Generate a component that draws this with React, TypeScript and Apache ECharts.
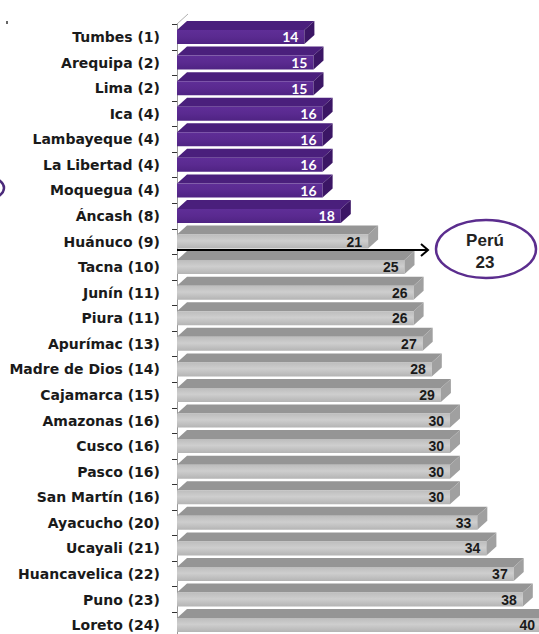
import React, { useEffect, useRef } from "react";
import * as echarts from "echarts";

const categories = [
  "Tumbes (1)", "Arequipa (2)", "Lima (2)", "Ica (4)", "Lambayeque (4)", "La Libertad (4)",
  "Moquegua (4)", "Áncash (8)", "Huánuco (9)", "Tacna (10)", "Junín (11)", "Piura (11)",
  "Apurímac (13)", "Madre de Dios (14)", "Cajamarca (15)", "Amazonas (16)", "Cusco (16)",
  "Pasco (16)", "San Martín (16)", "Ayacucho (20)", "Ucayali (21)", "Huancavelica (22)",
  "Puno (23)", "Loreto (24)",
];
const values = [14, 15, 15, 16, 16, 16, 16, 18, 21, 25, 26, 26, 27, 28, 29, 30, 30, 30, 30, 33, 34, 37, 38, 40];
const highlightedCount = 8;
const nationalLabel = "Perú";
const nationalValue = 23;

export default function App() {
  const ref = useRef<HTMLDivElement>(null);
  useEffect(() => {
    if (!ref.current) return;
    const chart = echarts.init(ref.current, null, { renderer: "svg" });
    const data = values.map((v, i) => [v, i]);
    const xMax = 39.5;
    chart.setOption({
      animation: false,
      backgroundColor: "#ffffff",
      grid: { left: 177, top: 24.2, width: xMax * 9.1, height: 24 * 25.57, outerBoundsMode: "none" },
      xAxis: { type: "value", min: 0, max: xMax, show: false },
      yAxis: {
        type: "category",
        data: categories,
        inverse: true,
        axisLine: { show: true, lineStyle: { color: "#9a9a9a", width: 1 } },
        axisTick: { show: true, length: 5, lineStyle: { color: "#333" } },
        axisLabel: {
          margin: 17,
          color: "#1a1a1a",
          fontFamily: "DejaVu Sans",
          fontWeight: "bold",
          fontSize: 14,
        },
        splitLine: { show: false },
      },
      series: [
        {
          type: "custom",
          data,
          encode: { x: 0, y: 1 },
          clip: false,
          renderItem: (params: any, api: any) => {
            const v = api.value(0);
            const idx = api.value(1);
            const end = api.coord([v, idx]);
            const start = api.coord([0, idx]);
            const x0 = start[0];
            const xf = end[0];
            const cy = end[1];
            const fh = 14;
            const dx = 10;
            const dy = 9;
            const yt = cy - fh / 2;
            const yb = cy + fh / 2;
            const purple = params.dataIndex < highlightedCount;
            const frontFill = purple
              ? new echarts.graphic.LinearGradient(0, 0, 0, 1, [
                  { offset: 0, color: "#5f2e97" },
                  { offset: 0.5, color: "#5a2a90" },
                  { offset: 1, color: "#4f2383" },
                ])
              : new echarts.graphic.LinearGradient(0, 0, 0, 1, [
                  { offset: 0, color: "#bdbdbd" },
                  { offset: 0.45, color: "#cecece" },
                  { offset: 1, color: "#b4b4b4" },
                ]);
            const topFill = purple ? "#4a1f7c" : "#959595";
            const sideFill = purple ? "#3b1665" : "#a0a0a0";
            return {
              type: "group",
              children: [
                {
                  type: "polygon",
                  shape: { points: [[x0, yt], [xf, yt], [xf + dx, yt - dy], [x0 + dx, yt - dy]] },
                  style: { fill: topFill },
                },
                {
                  type: "rect",
                  shape: { x: x0, y: yt, width: xf - x0, height: fh },
                  style: { fill: frontFill },
                },
                {
                  type: "polygon",
                  shape: { points: [[xf, yt], [xf + dx, yt - dy], [xf + dx, yb - dy], [xf, yb]] },
                  style: { fill: sideFill },
                },
                {
                  type: "text",
                  style: {
                    text: String(v),
                    x: xf - 6,
                    y: cy,
                    align: "right",
                    verticalAlign: "middle",
                    fill: purple ? "#ffffff" : "#1a1a1a",
                    fontFamily: purple ? "Lato" : "Liberation Sans",
                    fontWeight: "bold",
                    fontSize: 14,
                  },
                },
              ],
            };
          },
        },
      ],
      graphic: [
        { type: "line", shape: { x1: 177, y1: 24, x2: 188, y2: 14 }, style: { stroke: "#b0b0b0", lineWidth: 1 } },
        { type: "rect", shape: { x: 6, y: 21, width: 2, height: 3 }, style: { fill: "#666" } },
        {
          type: "ellipse",
          shape: { cx: -42, cy: 188, rx: 46, ry: 17 },
          style: { fill: "none", stroke: "#4b2a7a", lineWidth: 2.5 },
        },
        {
          type: "line",
          z: 100,
          shape: { x1: 177, y1: 250, x2: 428, y2: 250 },
          style: { stroke: "#000", lineWidth: 2 },
        },
        {
          type: "polyline",
          z: 100,
          shape: { points: [[421, 244], [428, 250], [421, 256]] },
          style: { stroke: "#000", lineWidth: 2, fill: "none" },
        },
        {
          type: "ellipse",
          z: 100,
          shape: { cx: 486, cy: 249, rx: 50, ry: 29 },
          style: { fill: "#ffffff", stroke: "#5b2d8e", lineWidth: 2.5 },
        },
        {
          type: "text",
          z: 101,
          style: {
            text: nationalLabel + "\n" + String(nationalValue),
            x: 485,
            y: 251,
            align: "center",
            verticalAlign: "middle",
            fill: "#222",
            fontFamily: "Liberation Sans",
            fontWeight: "bold",
            fontSize: 17,
            lineHeight: 22,
          },
        },
      ],
    });
    return () => chart.dispose();
  }, []);
  return <div ref={ref} style={{ position: "fixed", left: 0, top: 0, width: 539, height: 634 }} />;
}
